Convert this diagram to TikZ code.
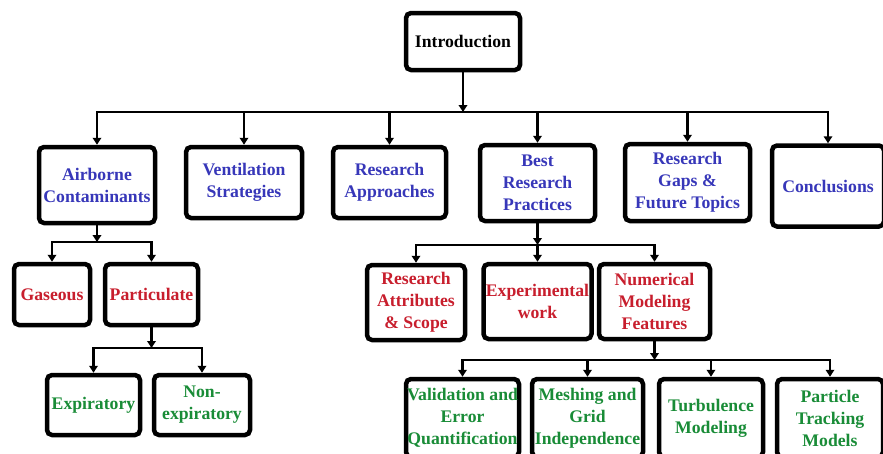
\documentclass[tikz,border=0pt]{standalone}
\usepackage{fontspec}
\setmainfont{Liberation Serif}
\usetikzlibrary{arrows.meta}
\definecolor{topicblue}{RGB}{55,55,185}
\definecolor{subred}{RGB}{200,30,45}
\definecolor{leafgreen}{RGB}{25,140,55}
\tikzset{
  box/.style={draw, line width=4.5pt, rounded corners=5pt, fill=white, align=center,
    inner sep=1pt, font=\fontsize{17.7}{22}\selectfont\bfseries},
  lvlone/.style={box, text=topicblue},
  lvltwo/.style={box, text=subred},
  lvlthree/.style={box, text=leafgreen},
  link/.style={line width=2.5pt},
  arr/.style={link, -{Triangle[width=8.5pt,length=7pt]}}
}
\begin{document}
\begin{tikzpicture}[x=1pt,y=1pt]
\useasboundingbox (0,0) rectangle (883,-453);
\clip (0,0) rectangle (883,-453);

   \node[box, minimum width=114pt, minimum height=57pt] at (463,-41.5) (intro) {Introduction};

   % first level
   \node[lvlone, minimum width=116pt, minimum height=76pt] at (97,-185) (air) {Airborne\\Contaminants};
   \node[lvlone, minimum width=116pt, minimum height=71pt] at (244,-182.5) (vent) {Ventilation\\Strategies};
   \node[lvlone, minimum width=113pt, minimum height=71pt] at (389.5,-182.5) (appr) {Research\\Approaches};
   \node[lvlone, minimum width=115pt, minimum height=76pt] at (537.5,-183) (best) {Best\\Research\\Practices};
   \node[lvlone, minimum width=125pt, minimum height=77pt] at (687.5,-182.5) (gaps) {Research\\Gaps \&\\Future Topics};
   \node[lvlone, minimum width=112pt, minimum height=81pt] at (828,-186) (conc) {Conclusions};

   % second level
   \node[lvltwo, minimum width=76pt, minimum height=61pt] at (52,-294.5) (gas) {Gaseous};
   \node[lvltwo, minimum width=93pt, minimum height=61pt] at (151.5,-294.5) (part) {Particulate};
   \node[lvltwo, minimum width=98pt, minimum height=75pt] at (416,-302.5) (ras) {Research\\Attributes\\\& Scope};
   \node[lvltwo, minimum width=108pt, minimum height=75pt] at (537.5,-301.5) (expw) {Experimental\\work};
   \node[lvltwo, minimum width=111pt, minimum height=75pt] at (654.5,-301.5) (num) {Numerical\\Modeling\\Features};

   % third level
   \node[lvlthree, minimum width=93pt, minimum height=60pt] at (93.5,-405) (expi) {Expiratory};
   \node[lvlthree, minimum width=96pt, minimum height=60pt] at (202,-405) (nonx) {Non-\\expiratory};
   \node[lvlthree, minimum width=111pt, minimum height=78pt] at (462.5,-418) (valid) {Validation and\\Error\\Quantification};
   \node[lvlthree, minimum width=111pt, minimum height=78pt] at (587.5,-418) (mesh) {Meshing and\\Grid\\Independence};
   \node[lvlthree, minimum width=104pt, minimum height=78pt] at (711,-418) (turb) {Turbulence\\Modeling};
   \node[lvlthree, minimum width=106pt, minimum height=78pt] at (830,-418) (ptrack) {Particle\\Tracking\\Models};

   \coordinate (b1) at (463,-112);
   \coordinate (b2) at (97,-242);
   \coordinate (b3) at (151.5,-348);
   \coordinate (b4) at (537.5,-245);
   \coordinate (b5) at (654.5,-360);

   \draw[arr] (intro) -- (b1);
   \draw[arr] (b1) -| (air);
   \draw[arr] (b1) -| (vent);
   \draw[arr] (b1) -| (appr);
   \draw[arr] (b1) -| (best);
   \draw[arr] (b1) -| (gaps);
   \draw[arr] (b1) -| (conc);

   \draw[arr] (air) -- (b2);
   \draw[arr] (b2) -| (gas);
   \draw[arr] (b2) -| (part);

   \draw[arr] (part) -- (b3);
   \draw[arr] (b3) -| (expi);
   \draw[arr] (b3) -| (nonx);

   \draw[arr] (best) -- (b4);
   \draw[arr] (b4) -| (ras);
   \draw[arr] (b4) -- (expw);
   \draw[arr] (b4) -| (num);

   \draw[arr] (num) -- (b5);
   \draw[arr] (b5) -| (valid);
   \draw[arr] (b5) -| (mesh);
   \draw[arr] (b5) -| (turb);
   \draw[arr] (b5) -| (ptrack);

\end{tikzpicture}
\end{document}
